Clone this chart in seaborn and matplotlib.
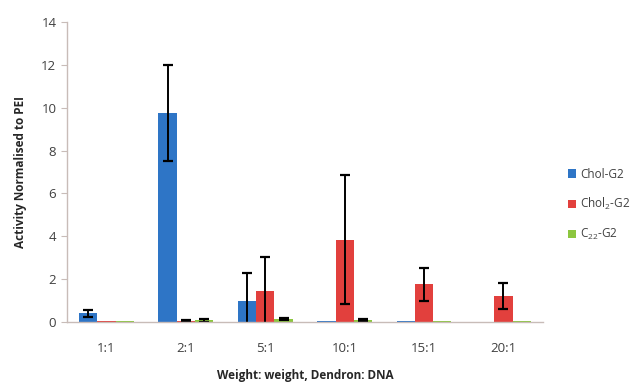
import pandas as pd
import numpy as np
import matplotlib
matplotlib.use("Agg")
import matplotlib.pyplot as plt
import seaborn as sns

# 데이터
ratios = ["1:1", "2:1", "5:1", "10:1", "15:1", "20:1"]
series = ["Chol-G2", "Chol$_2$-G2", "C$_{22}$-G2"]
chol_g2 = [0.40, 9.75, 1.00, 0.03, 0.03, 0.00]
chol_g2_err = [0.15, 2.25, 1.28, 0.00, 0.00, 0.00]
chol2_g2 = [0.03, 0.05, 1.45, 3.85, 1.75, 1.20]
chol2_g2_err = [0.00, 0.03, 1.58, 3.00, 0.75, 0.60]
c22_g2 = [0.03, 0.08, 0.12, 0.08, 0.03, 0.03]
c22_g2_err = [0.00, 0.06, 0.05, 0.05, 0.00, 0.00]

colors = ["#2E75C6", "#E2403D", "#8CC63F"]

values = [chol_g2, chol2_g2, c22_g2]
errors = [chol_g2_err, chol2_g2_err, c22_g2_err]

df = pd.DataFrame({
    "ratio": ratios * 3,
    "series": np.repeat(series, len(ratios)),
    "value": chol_g2 + chol2_g2 + c22_g2,
})

sns.set_style("white")
plt.rcParams["font.family"] = ["Open Sans", "DejaVu Sans"]
plt.rcParams["mathtext.fontset"] = "custom"
plt.rcParams["mathtext.rm"] = "Open Sans"
plt.rcParams["mathtext.it"] = "Open Sans"

fig = plt.figure(figsize=(6.36, 3.87), dpi=100)
ax = fig.add_axes([0.105, 0.168, 0.749, 0.775])

sns.barplot(
    data=df, x="ratio", y="value", hue="series",
    palette=colors, order=ratios, hue_order=series,
    width=0.69, gap=0.0, errorbar=None, saturation=1,
    linewidth=0, ax=ax,
)

# 에러바: 막대 위치에서 직접 계산, 0인 값은 생략
for cont, err in zip(ax.containers, errors):
    for p, e in zip(cont.patches, err):
        if e <= 0:
            continue
        ax.errorbar(p.get_x() + p.get_width() / 2, p.get_height(), yerr=e,
                    fmt="none", ecolor="black", elinewidth=1.4,
                    capsize=3.5, capthick=1.6)

ax.set_ylim(0, 14)
ax.set_yticks(range(0, 15, 2))
ax.set_xlim(-0.5, len(ratios) - 0.5)

for s in ["top", "right"]:
    ax.spines[s].set_visible(False)
for s in ["left", "bottom"]:
    ax.spines[s].set_color("#c8bcb8")
    ax.spines[s].set_linewidth(1.0)

ax.tick_params(axis="y", left=True, length=4, color="#c8bcb8",
               labelsize=9.5, labelcolor="#404040")
ax.tick_params(axis="x", bottom=False, labelsize=9.5, labelcolor="#404040", pad=11)

ax.set_xlabel("Weight: weight, Dendron: DNA", fontsize=8.5, fontweight="bold", labelpad=10)
ax.set_ylabel("Activity Normalised to PEI", fontsize=8.5, fontweight="bold", labelpad=10)

ax.legend(
    loc="center left", bbox_to_anchor=(1.03, 0.39), frameon=False,
    fontsize=8.5, handlelength=0.7, handleheight=0.7, handletextpad=0.3,
    labelspacing=1.3, labelcolor="#404040",
)

plt.savefig("out.png", dpi=100)
plt.close()
